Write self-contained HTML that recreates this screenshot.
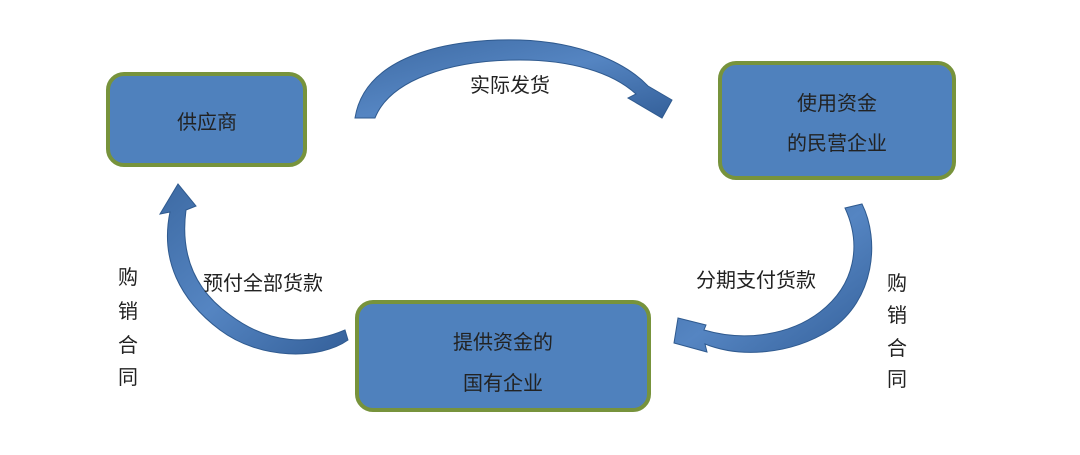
<!DOCTYPE html>
<html><head><meta charset="utf-8"><style>
html,body{margin:0;padding:0;background:#fff;}
svg{display:block;}
text{font-family:"Liberation Sans","Noto Sans CJK SC",sans-serif;font-size:20px;fill:#222;}
</style></head><body>
<svg width="1080" height="455" viewBox="0 0 1080 455">
<defs>
<linearGradient id="g" x1="0" y1="0" x2="1" y2="1">
<stop offset="0" stop-color="#3d6aa3"/><stop offset="0.5" stop-color="#5585c2"/><stop offset="1" stop-color="#34609a"/>
</linearGradient>
</defs>
<rect x="108" y="74" width="197" height="91" rx="16" fill="#4f81bd" stroke="#77933c" stroke-width="4"/>
<rect x="720" y="63" width="234" height="115" rx="16" fill="#4f81bd" stroke="#77933c" stroke-width="4"/>
<rect x="357" y="302" width="292" height="108" rx="16" fill="#4f81bd" stroke="#77933c" stroke-width="4"/>

<!-- top arrow -->
<path d="M355,118 C365,55 450,38 520,40 C580,42 625,62 648,86 L672,100 L662,118 L628,98 L636,94 C612,72 570,60 520,60 C450,60 390,80 375,118 Z" fill="url(#g)" stroke="#2f5a8f" stroke-width="1"/>
<!-- left arrow -->
<path d="M348,340 C320,360 260,360 220,330 C180,300 160,260 170,212 L160,214 L178,184 L196,206 L186,210 C180,255 195,290 230,315 C270,345 310,345 345,330 Z" fill="url(#g)" stroke="#2f5a8f" stroke-width="1"/>
<!-- right arrow -->
<path d="M845,208 L862,204 C880,240 875,300 830,330 C790,355 740,358 705,344 L707,352 L674,343 L678,318 L706,325 L704,330 C745,342 790,335 820,312 C855,285 862,245 845,208 Z" fill="url(#g)" stroke="#2f5a8f" stroke-width="1"/>

<text x="207" y="129" text-anchor="middle">供应商</text>
<text x="837" y="110" text-anchor="middle">使用资金</text>
<text x="837" y="150" text-anchor="middle">的民营企业</text>
<text x="503" y="349" text-anchor="middle">提供资金的</text>
<text x="503" y="390" text-anchor="middle">国有企业</text>
<text x="510" y="92" text-anchor="middle">实际发货</text>
<text x="263" y="290" text-anchor="middle">预付全部货款</text>
<text x="756" y="287" text-anchor="middle">分期支付货款</text>
<text x="128" y="284" text-anchor="middle">购</text>
<text x="128" y="318" text-anchor="middle">销</text>
<text x="128" y="352" text-anchor="middle">合</text>
<text x="128" y="384" text-anchor="middle">同</text>
<text x="897" y="290" text-anchor="middle">购</text>
<text x="897" y="322" text-anchor="middle">销</text>
<text x="897" y="355" text-anchor="middle">合</text>
<text x="897" y="386" text-anchor="middle">同</text>
</svg>
</body></html>
